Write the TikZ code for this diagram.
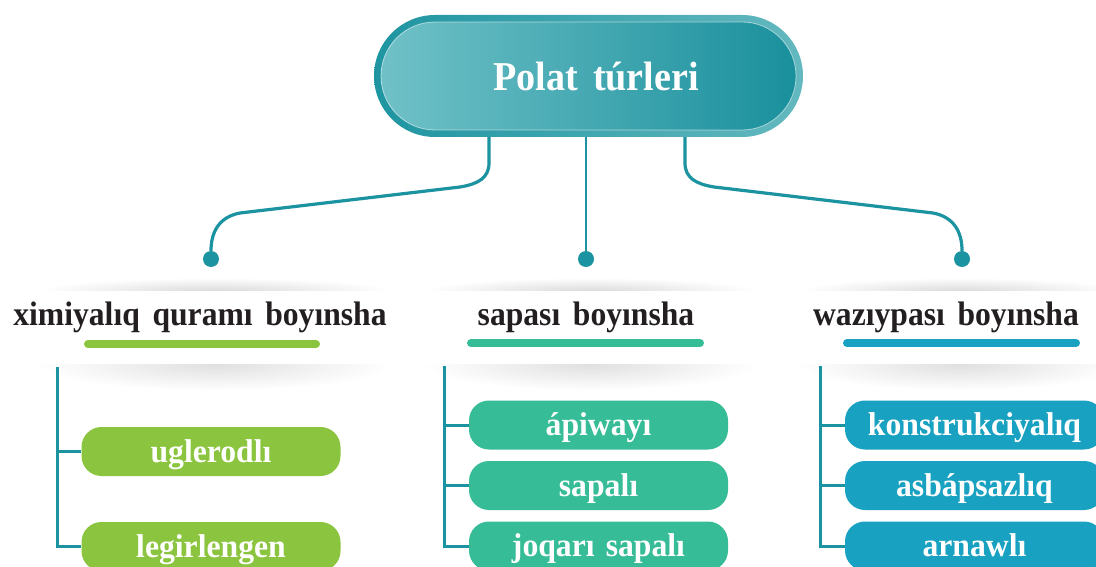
\documentclass[tikz,border=0pt]{standalone}
\usepackage{fontspec}
\setmainfont{Liberation Serif}
\newfontfamily\headfont{Liberation Serif}[FakeStretch=0.93,WordSpace=1.6]
\newfontfamily\leaffont{Liberation Serif}[FakeStretch=0.96,WordSpace=1.4]
\usetikzlibrary{shapes.misc,fadings}
\definecolor{SteelLink}{HTML}{1B93A0}
\definecolor{SteelGreen}{HTML}{8BC53F}
\definecolor{SteelMint}{HTML}{36BC96}
\definecolor{SteelBlue}{HTML}{19A1C1}
\definecolor{SteelText}{HTML}{231F20}
\definecolor{RingDark}{HTML}{1E95A1}
\definecolor{RingLight}{HTML}{64B8BF}
\definecolor{TitleLight}{HTML}{70C1C7}
\definecolor{TitleDark}{HTML}{1A909D}
\tikzfading[name=softblob, inner color=transparent!0, outer color=transparent!100]
\tikzset{
  link/.style={SteelLink,line width=3.2pt},
  branch/.style={SteelLink,line width=3pt},
  dot/.style={circle,fill=SteelLink,minimum size=16pt,inner sep=0pt},
  heading/.style={text=SteelText,anchor=base,font=\headfont\fontsize{34}{40}\selectfont\bfseries},
  bar/.style={#1,line width=8pt,line cap=round},
  leaf/.style={fill=#1,rounded corners=20pt,minimum width=259pt,minimum height=49pt,inner sep=0pt,
    text=white,text height=24pt,text depth=3pt,font=\leaffont\fontsize{33}{38}\selectfont\bfseries},
  shade/.style={black!#1,path fading=softblob}
}

\begin{document}
\begin{tikzpicture}[x=1pt,y=-1pt]
  \clip (0,0) rectangle (1096,567);
  \fill[white] (0,0) rectangle (1096,567);
  \fill[shade=14] (215,291) ellipse (175pt and 13pt);
  \fill[shade=12] (215,364) ellipse (175pt and 26pt);
  \fill[shade=14] (590,291) ellipse (165pt and 13pt);
  \fill[shade=12] (590,364) ellipse (165pt and 26pt);
  \fill[shade=14] (960,291) ellipse (160pt and 13pt);
  \fill[shade=12] (960,364) ellipse (160pt and 26pt);
  \fill[white] (0,291) rectangle (1096,364);

  \node[rounded rectangle,minimum width=429pt,minimum height=122pt,inner sep=0pt,
    left color=RingDark,right color=RingLight] (ring) at (588.5,76) {};
  \node[rounded rectangle,minimum width=415pt,minimum height=108pt,inner sep=0pt,
    left color=TitleLight,right color=TitleDark,draw=white,draw opacity=0.55,line width=0.8pt,
    text=white,text height=32pt,text depth=3pt,font=\headfont\fontsize{41}{47}\selectfont\bfseries] (title) at (ring) {\hspace*{15pt}Polat túrleri};

  \node[dot] (d1) at (211,259) {};
  \node[dot] (d2) at (586,259) {};
  \node[dot] (d3) at (962,259) {};
  \draw[link] ([xshift=-99.5pt]ring.south) -- (489,163) .. controls (489,178) and (478,184) .. (460,187)
    -- (240,213) .. controls (219,217) and (211,232) .. (d1.north);
  \draw[link,line width=2.6pt] (ring.south -| d2) -- (d2);
  \draw[link] ([xshift=96.5pt]ring.south) -- (685,163) .. controls (685,178) and (696,184) .. (714,187)
    -- (933,213) .. controls (954,217) and (962,232) .. (d3.north);

  \node[heading] (h1) at (200,325) {ximiyalıq quramı boyınsha};
  \node[heading] (h2) at (586,325) {sapası boyınsha};
  \node[heading] (h3) at (946,325) {wazıypası boyınsha};
  \draw[bar=SteelGreen] (88,344) -- (316,344);
  \draw[bar=SteelMint] (471,343) -- (700,343);
  \draw[bar=SteelBlue] (847,343) -- (1076,343);

  \node[leaf=SteelGreen] (b11) at (211,451.5) {uglerodlı};
  \node[leaf=SteelGreen] (b12) at (211,546.5) {legirlengen};
  \node[leaf=SteelMint] (b21) at (598.5,425) {ápiwayı};
  \node[leaf=SteelMint] (b22) at (598.5,485.5) {sapalı};
  \node[leaf=SteelMint] (b23) at (598.5,546) {joqarı sapalı};
  \node[leaf=SteelBlue] (b31) at (974.5,425) {konstrukciyalıq};
  \node[leaf=SteelBlue] (b32) at (974.5,485.5) {asbápsazlıq};
  \node[leaf=SteelBlue] (b33) at (974.5,546) {arnawlı};

  \coordinate (t1) at (57,367);
  \coordinate (t2) at (444,366);
  \coordinate (t3) at (820,366);
  \draw[branch] (t1) |- (b12.west);
  \draw[branch] (t1 |- b11.west) -- (b11.west);
  \draw[branch] (t2) |- (b23.west);
  \draw[branch] (t2 |- b21.west) -- (b21.west);
  \draw[branch] (t2 |- b22.west) -- (b22.west);
  \draw[branch] (t3) |- (b33.west);
  \draw[branch] (t3 |- b31.west) -- (b31.west);
  \draw[branch] (t3 |- b32.west) -- (b32.west);
\end{tikzpicture}
\end{document}
